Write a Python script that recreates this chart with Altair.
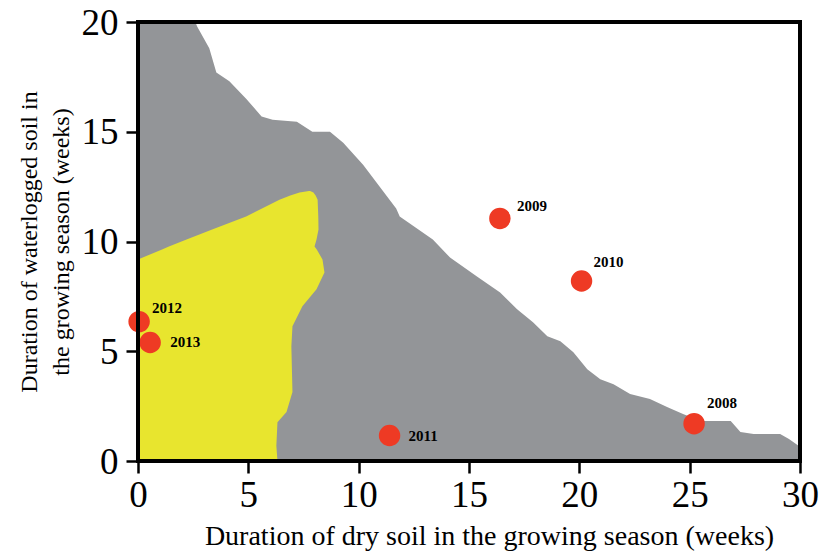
import altair as alt
import pandas as pd

# Gray region upper boundary (x: dry weeks, y: waterlogged weeks)
gray_x = [0, 2.6, 2.68, 3.23, 3.55, 4.14, 4.9, 5.6, 6.1, 7.2, 7.9, 8.7, 9.3, 10.2, 11.1, 11.7,
          11.86, 13.36, 14.14, 15.36, 16.41, 17.18, 17.9, 18.55, 19.14, 19.73, 20.36, 20.95,
          21.55, 22.3, 23.2, 24.0, 24.7, 25.5, 26.86, 27.3, 27.9, 29.1, 29.5, 29.95, 30]
gray_y = [20, 20, 19.8, 18.8, 17.7, 17.3, 16.5, 15.7, 15.55, 15.45, 15.0, 15.0, 14.5, 13.5, 12.3, 11.5,
          11.14, 10.09, 9.27, 8.41, 7.68, 6.91, 6.32, 5.68, 5.45, 4.95, 4.18, 3.73,
          3.5, 3.05, 2.82, 2.45, 2.14, 1.82, 1.82, 1.32, 1.23, 1.23, 1.0, 0.68, 0.6]

# Yellow region: for each y, left and right x limits
yellow_y = [0, 0.7, 1.77, 2.23, 3.14, 5.23, 6.14, 7.05, 7.82, 8.59, 9.18, 9.64, 9.77, 10.09,
            10.55, 11.14, 11.9, 12.1, 12.23, 12.3]
yellow_xr = [6.32, 6.27, 6.32, 6.73, 7.0, 6.95, 7.0, 7.45, 8.09, 8.45, 8.36, 8.1, 8.0, 8.09,
             8.18, 8.17, 8.14, 8.05, 7.95, 7.8]
yellow_xl = [0, 0, 0, 0, 0, 0, 0, 0, 0, 0, 0, 1.09, 1.4, 2.2,
             3.36, 4.9, 6.41, 6.9, 7.32, 7.75]

# Observed years
years = ["2008", "2009", "2010", "2011", "2012", "2013"]
dry = [25.2, 16.4, 20.1, 11.4, 0.05, 0.55]
wet = [1.7, 11.05, 8.2, 1.16, 6.35, 5.4]

x_ticks = [0, 5, 10, 15, 20, 25, 30]
y_ticks = [0, 5, 10, 15, 20]

gray_df = pd.DataFrame({"x": gray_x, "y": gray_y, "y0": [0] * len(gray_x)})
yellow_df = pd.DataFrame({"y": yellow_y, "xl": yellow_xl, "xr": yellow_xr})
pts_df = pd.DataFrame({"year": years, "x": dry, "y": wet})
frame_df = pd.DataFrame({"x0": [x_ticks[0]], "x1": [x_ticks[-1]], "y0": [y_ticks[0]], "y1": [y_ticks[-1]]})

FONT = "Liberation Serif"
xs = alt.Scale(domain=[0, 30], nice=False, zero=False)
ys = alt.Scale(domain=[0, 20], nice=False, zero=False)

xaxis = alt.Axis(values=x_ticks, title="Duration of dry soil in the growing season (weeks)",
                 grid=False, domain=False, tickSize=12, tickWidth=2.5, tickColor="black",
                 labelFont=FONT, labelFontSize=37, labelColor="black", labelPadding=4,
                 titleFont=FONT, titleFontSize=28, titleFontWeight="normal", titleColor="black",
                 titlePadding=9, titleX=351, titleAlign="center", labelFlush=False)
yaxis = alt.Axis(values=y_ticks, title=["Duration of waterlogged soil in", "the growing season (weeks)"],
                 grid=False, domain=False, tickSize=12, tickWidth=2.5, tickColor="black",
                 labelFont=FONT, labelFontSize=37, labelColor="black", labelPadding=8,
                 labelBaseline="alphabetic", labelOffset=12,
                 titleFont=FONT, titleFontSize=24, titleFontWeight="normal", titleColor="black",
                 titlePadding=8, titleLineHeight=32, labelFlush=False)

gray = alt.Chart(gray_df).mark_area(color="#939598", opacity=1).encode(
    x=alt.X("x:Q", scale=xs, axis=xaxis),
    y=alt.Y("y:Q", scale=ys, axis=yaxis),
    y2="y0:Q",
)

yellow = alt.Chart(yellow_df).mark_area(color="#E8E52E", orient="horizontal", opacity=1).encode(
    y=alt.Y("y:Q", scale=ys),
    x=alt.X("xl:Q", scale=xs),
    x2="xr:Q",
)

points = alt.Chart(pts_df).mark_point(filled=True, size=460, color="#EE3A24", opacity=1).encode(
    x=alt.X("x:Q", scale=xs),
    y=alt.Y("y:Q", scale=ys),
)

offsets = {"2008": (13, -21), "2009": (17, -12), "2010": (12, -19),
           "2011": (19, 0), "2012": (13, -14), "2013": (20, 0)}
labels = []
for yr in years:
    dx, dy = offsets[yr]
    labels.append(
        alt.Chart(pts_df).transform_filter(alt.datum.year == yr)
        .mark_text(font=FONT, fontSize=15, fontWeight="bold", color="black",
                   align="left", baseline="middle", dx=dx, dy=dy)
        .encode(x=alt.X("x:Q", scale=xs), y=alt.Y("y:Q", scale=ys), text="year:N")
    )

frame = alt.Chart(frame_df).mark_rect(filled=False, stroke="black", strokeWidth=4).encode(
    x=alt.X("x0:Q", scale=xs), x2="x1:Q",
    y=alt.Y("y0:Q", scale=ys), y2="y1:Q",
)

chart = alt.layer(gray, yellow, points, *labels, frame).properties(
    width=662, height=439,
    autosize=alt.AutoSizeParams(type="none"),
    padding={"left": 130, "top": 14, "right": 20, "bottom": 91},
).configure_view(stroke=None).configure(background="white")

chart.save("out.html", embed_options={"renderer": "svg", "actions": False})
